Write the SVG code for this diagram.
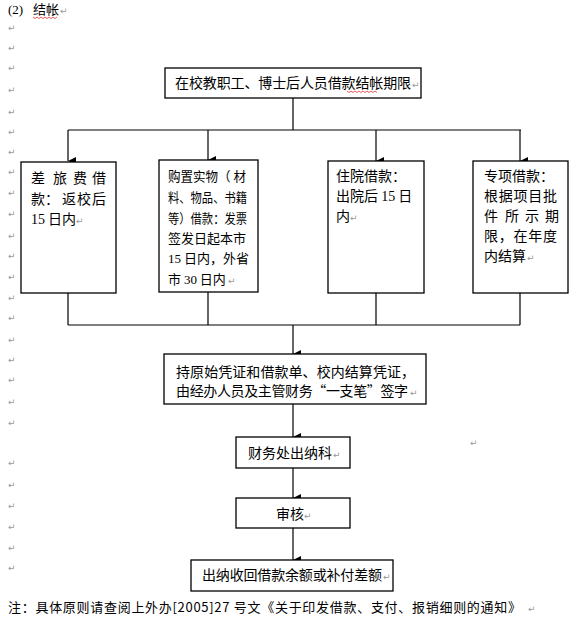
<svg xmlns="http://www.w3.org/2000/svg" width="580" height="629" viewBox="0 0 580 629">
<style>
.box{fill:#fff;stroke:#000;stroke-width:1.3}
.ln{fill:none;stroke:#000;stroke-width:1.2}
.t{font-family:"Noto Sans CJK SC","Noto Sans CJK JP",sans-serif;font-size:14px;fill:#000}
.s{font-size:13px}
.n{font-family:"Liberation Serif",serif}
.pm{font-family:"DejaVu Sans",sans-serif;font-size:9px;fill:#999}
.wv{fill:none;stroke:#e03030;stroke-width:0.8}
</style>
<defs>
<marker id="ah" viewBox="0 0 8 8" refX="4" refY="8" markerWidth="8" markerHeight="8" markerUnits="userSpaceOnUse" orient="auto-start-reverse">
<path d="M0,0 L8,0 L4,8 Z" fill="#000"/>
</marker>
</defs>
<rect width="580" height="629" fill="#fff"/>

<g id="title">
<text class="t n" x="8" y="14" style="font-size:13px">(2)</text>
<text class="t s" x="33" y="14">结帐</text>
<path class="wv" d="M33,17 l2,1.5 l2,-1.5 l2,1.5 l2,-1.5 l2,1.5 l2,-1.5 l2,1.5 l2,-1.5 l2,1.5 l2,-1.5 l2,1.5 l2,-1.5"/>
<text class="pm" x="60" y="14">↵</text>
</g>

<g id="marks">
<text class="pm" x="8" y="31">↵</text><text class="pm" x="8" y="51">↵</text><text class="pm" x="8" y="71">↵</text>
<text class="pm" x="8" y="93">↵</text><text class="pm" x="8" y="115">↵</text><text class="pm" x="8" y="135">↵</text>
<text class="pm" x="8" y="155">↵</text><text class="pm" x="8" y="175">↵</text><text class="pm" x="8" y="196">↵</text>
<text class="pm" x="8" y="217">↵</text><text class="pm" x="8" y="239">↵</text><text class="pm" x="8" y="259">↵</text>
<text class="pm" x="8" y="280">↵</text><text class="pm" x="8" y="301">↵</text><text class="pm" x="8" y="321">↵</text>
<text class="pm" x="8" y="343">↵</text><text class="pm" x="8" y="363">↵</text><text class="pm" x="8" y="383">↵</text>
<text class="pm" x="8" y="405">↵</text><text class="pm" x="8" y="426">↵</text><text class="pm" x="8" y="466">↵</text>
<text class="pm" x="8" y="488">↵</text><text class="pm" x="8" y="509">↵</text><text class="pm" x="8" y="530">↵</text>
<text class="pm" x="8" y="551">↵</text><text class="pm" x="8" y="571">↵</text>
<text class="pm" x="470" y="446">↵</text>
</g>

<g id="connectors">
<path class="ln" d="M293,98 V130 M68,130 H521"/>
<path class="ln" d="M68,130 V161" marker-end="url(#ah)"/>
<path class="ln" d="M208,130 V160" marker-end="url(#ah)"/>
<path class="ln" d="M376,130 V161" marker-end="url(#ah)"/>
<path class="ln" d="M520,130 V161" marker-end="url(#ah)"/>
<path class="ln" d="M68,293 V325 M208,292 V325 M376,293 V325 M520,293 V325 M68,325 H520"/>
<path class="ln" d="M293,325 V354" marker-end="url(#ah)"/>
<path class="ln" d="M293,404 V437" marker-end="url(#ah)"/>
<path class="ln" d="M293,468 V498" marker-end="url(#ah)"/>
<path class="ln" d="M293,528 V560" marker-end="url(#ah)"/>
</g>

<g id="n-top">
<rect class="box" x="165" y="68" width="256" height="30"/>
<text class="t" x="175" y="88" textLength="236" lengthAdjust="spacing">在校教职工、博士后人员借款结帐期限</text>
<path class="wv" d="M347,91 l2,1.5 l2,-1.5 l2,1.5 l2,-1.5 l2,1.5 l2,-1.5 l2,1.5 l2,-1.5 l2,1.5 l2,-1.5 l2,1.5 l2,-1.5 l2,1.5 l2,-1.5 l2,1.5"/>
<text class="pm" x="412" y="88">↵</text>
</g>

<g id="n-travel">
<rect class="box" x="21" y="162" width="95" height="131"/>
<text class="t" x="31 53 73 92" y="183">差旅费借</text>
<text class="t" x="31 45 62 77 92" y="204">款：返校后</text>
<text class="t" x="31" y="224"><tspan class="n">15</tspan><tspan x="48">日内</tspan></text>
<text class="pm" x="76" y="224">↵</text>
</g>

<g id="n-purchase">
<rect class="box" x="159" y="160" width="99" height="132"/>
<text class="t s" x="168" y="181" textLength="78" lengthAdjust="spacingAndGlyphs">购置实物（ 材</text>
<text class="t s" x="168" y="202" textLength="79" lengthAdjust="spacingAndGlyphs">料、物品、书籍</text>
<text class="t s" x="168" y="223" textLength="79" lengthAdjust="spacingAndGlyphs">等）借款：发票</text>
<text class="t s" x="168" y="243" textLength="78" lengthAdjust="spacing">签发日起本市</text>
<text class="t s" x="168" y="263"><tspan class="n">15</tspan> 日内，外省</text>
<text class="t s" x="168" y="284">市 <tspan class="n">30</tspan> 日内</text>
<text class="pm" x="228" y="284">↵</text>
</g>

<g id="n-hospital">
<rect class="box" x="328" y="161" width="96" height="132"/>
<text class="t" x="336" y="181">住院借款：</text>
<text class="t" x="336" y="201">出院后 <tspan class="n">15</tspan> 日</text>
<text class="t" x="336" y="221">内</text>
<text class="pm" x="350" y="221">↵</text>
</g>

<g id="n-special">
<rect class="box" x="473" y="161" width="95" height="132"/>
<text class="t" x="484" y="181">专项借款：</text>
<text class="t" x="484" y="201" textLength="73" lengthAdjust="spacing">根据项目批</text>
<text class="t" x="484 505 525 545" y="221">件所示期</text>
<text class="t" x="484" y="241" textLength="73" lengthAdjust="spacing">限，在年度</text>
<text class="t" x="484" y="261">内结算</text>
<text class="pm" x="527" y="261">↵</text>
</g>

<g id="n-voucher">
<rect class="box" x="164" y="354" width="262" height="50"/>
<text class="t" x="176" y="377" textLength="239" lengthAdjust="spacing">持原始凭证和借款单、校内结算凭证，</text>
<text class="t" x="176" y="396" textLength="232" lengthAdjust="spacing">由经办人员及主管财务“一支笔”签字</text>
<text class="pm" x="410" y="396">↵</text>
</g>

<g id="n-cashier">
<rect class="box" x="236" y="437" width="114" height="31"/>
<text class="t" x="248" y="458" textLength="84" lengthAdjust="spacing">财务处出纳科</text>
<text class="pm" x="333" y="458">↵</text>
</g>

<g id="n-audit">
<rect class="box" x="236" y="498" width="114" height="30"/>
<text class="t" x="276" y="519">审核</text>
<text class="pm" x="304" y="519">↵</text>
</g>

<g id="n-settle">
<rect class="box" x="191" y="560" width="202" height="31"/>
<text class="t" x="202" y="580" textLength="180" lengthAdjust="spacing">出纳收回借款余额或补付差额</text>
<text class="pm" x="383" y="580">↵</text>
</g>

<g id="note">
<text class="t s" x="8" y="612" textLength="513" lengthAdjust="spacing">注：具体原则请查阅上外办[2005]27 号文《关于印发借款、支付、报销细则的通知》</text>
<text class="pm" x="528" y="612">↵</text>
</g>
</svg>
